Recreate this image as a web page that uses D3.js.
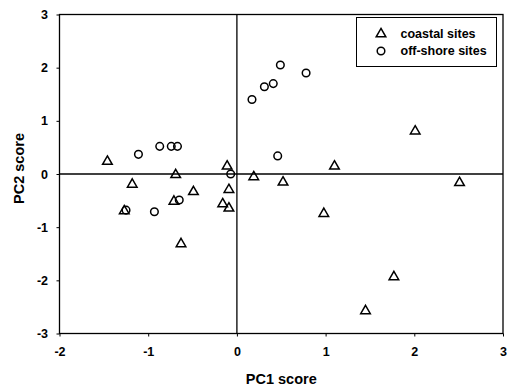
<!DOCTYPE html>
<html>
<head>
<meta charset="utf-8">
<script src="https://cdn.jsdelivr.net/npm/d3@7"></script>
<style>
  body { margin: 0; background: #fff; }
  text { font-family: Arial, "Liberation Sans", sans-serif; font-weight: bold; }
</style>
</head>
<body>
<div id="graph"></div>
<script>
'use strict';

// coastal sites (triangles)
const coastalPC1 = [-1.46, -1.18, -0.69, -0.11, -0.49, -0.09, -0.16, -0.09, -0.71, -0.63, -1.27, 0.19, 0.52, 1.10, 2.01, 2.51, 0.98, 1.77, 1.45];
const coastalPC2 = [0.25, -0.18, 0.00, 0.16, -0.32, -0.28, -0.55, -0.63, -0.50, -1.30, -0.68, -0.04, -0.14, 0.16, 0.82, -0.15, -0.73, -1.92, -2.56];

// off-shore sites (circles)
const offshorePC1 = [-1.11, -0.87, -0.74, -0.67, -0.07, 0.17, 0.31, 0.41, 0.49, 0.78, 0.46, -0.65, -1.25, -0.93];
const offshorePC2 = [0.37, 0.52, 0.52, 0.52, 0.00, 1.40, 1.64, 1.70, 2.05, 1.90, 0.34, -0.49, -0.68, -0.71];

const xTicks = [-2, -1, 0, 1, 2, 3];
const yTicks = [-3, -2, -1, 0, 1, 2, 3];
const seriesNames = ['coastal sites', 'off-shore sites'];

const W = 507, H = 392;
const margin = { left: 59.5, right: 4, top: 14.5, bottom: 58.5 };

const svg = d3.select('#graph').append('svg')
  .attr('width', W)
  .attr('height', H);

const x = d3.scaleLinear().domain([-2, 3]).range([margin.left, W - margin.right]);
const y = d3.scaleLinear().domain([-3, 3]).range([H - margin.bottom, margin.top]);

// plain hyphen minus, like the original
const fmt = d => String(d);

// axes
const xAxis = svg.append('g')
  .attr('transform', `translate(0, ${y(-3)})`)
  .call(d3.axisBottom(x).tickValues(xTicks).tickSize(3).tickPadding(10.5).tickFormat(fmt));
const yAxis = svg.append('g')
  .attr('transform', `translate(${x(-2)}, 0)`)
  .call(d3.axisLeft(y).tickValues(yTicks).tickSize(3).tickPadding(8.5).tickFormat(fmt));

[xAxis, yAxis].forEach(a => {
  a.select('.domain').remove();
  a.selectAll('line').attr('stroke', '#000').attr('stroke-width', 1);
  a.selectAll('text').style('font-size', '12.5px').attr('fill', '#000')
    .style('font-family', 'Arial, "Liberation Sans", sans-serif').style('font-weight', 'bold');
});

// frame
svg.append('rect')
  .attr('x', x(-2)).attr('y', y(3))
  .attr('width', x(3) - x(-2)).attr('height', y(-3) - y(3))
  .attr('fill', 'none').attr('stroke', '#000').attr('stroke-width', 1.3);

// zero lines
svg.append('line')
  .attr('x1', x(0)).attr('x2', x(0)).attr('y1', y(3)).attr('y2', y(-3))
  .attr('stroke', '#000').attr('stroke-width', 1.3);
svg.append('line')
  .attr('x1', x(-2)).attr('x2', x(3)).attr('y1', y(0)).attr('y2', y(0))
  .attr('stroke', '#000').attr('stroke-width', 1.3);

const triangle = d3.symbol().type(d3.symbolTriangle).size(40);

const coastal = coastalPC1.map((v, i) => ({ pc1: v, pc2: coastalPC2[i] }));
const offshore = offshorePC1.map((v, i) => ({ pc1: v, pc2: offshorePC2[i] }));

svg.selectAll('.tri')
  .data(coastal)
  .enter()
  .append('path')
    .attr('class', 'tri')
    .attr('d', triangle)
    .attr('transform', d => `translate(${x(d.pc1)}, ${y(d.pc2) + 0.8})`)
    .attr('fill', 'none')
    .attr('stroke', '#000')
    .attr('stroke-width', 1.5);

svg.selectAll('.circ')
  .data(offshore)
  .enter()
  .append('circle')
    .attr('class', 'circ')
    .attr('cx', d => x(d.pc1))
    .attr('cy', d => y(d.pc2))
    .attr('r', 3.8)
    .attr('fill', 'none')
    .attr('stroke', '#000')
    .attr('stroke-width', 1.5);

// legend
const legend = svg.append('g');
legend.append('rect')
  .attr('x', 356.5).attr('y', 17.5)
  .attr('width', 140).attr('height', 49)
  .attr('fill', '#fff').attr('stroke', '#000').attr('stroke-width', 1);
legend.append('path')
  .attr('d', triangle)
  .attr('transform', 'translate(381, 34)')
  .attr('fill', 'none').attr('stroke', '#000').attr('stroke-width', 1.5);
legend.append('circle')
  .attr('cx', 381).attr('cy', 51).attr('r', 3.8)
  .attr('fill', 'none').attr('stroke', '#000').attr('stroke-width', 1.5);
legend.selectAll('.lab')
  .data(seriesNames)
  .enter()
  .append('text')
    .attr('x', 400.5)
    .attr('y', (d, i) => 37.5 + i * 17)
    .style('font-size', '12.5px')
    .text(d => d);

// titles
svg.append('text')
  .attr('x', (x(-2) + x(3)) / 2)
  .attr('y', 384)
  .attr('text-anchor', 'middle')
  .style('font-size', '14.5px')
  .text('PC1 score');

svg.append('text')
  .attr('transform', 'translate(24, 168.5) rotate(-90)')
  .attr('text-anchor', 'middle')
  .style('font-size', '14.5px')
  .text('PC2 score');
</script>
</body>
</html>
